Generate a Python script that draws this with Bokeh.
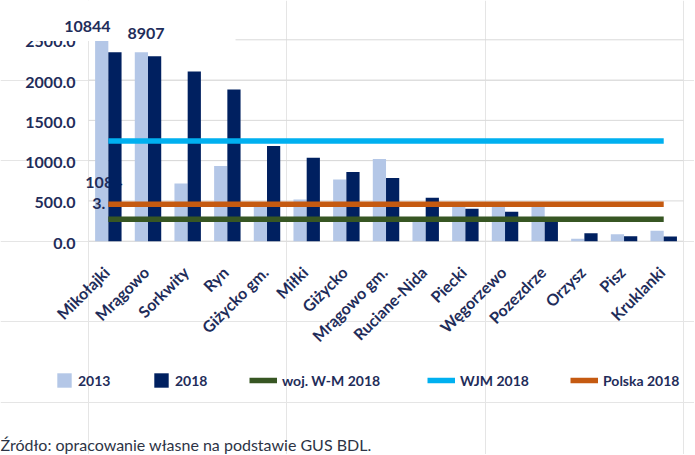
from math import pi
from bokeh.plotting import figure
from bokeh.models import Range1d, Legend, LegendItem, Label, ColumnDataSource, BoxAnnotation
from bokeh.core.properties import value
from bokeh.embed import file_html
from bokeh.resources import INLINE

# ---------------- data ----------------
categories = ["Mikołajki", "Mrągowo", "Sorkwity", "Ryn", "Giżycko gm.", "Miłki",
              "Giżycko", "Mrągowo gm.", "Ruciane-Nida", "Piecki", "Węgorzewo",
              "Pozezdrze", "Orzysz", "Pisz", "Kruklanki"]
values_2013 = [10844, 2345, 716, 935, 440, 517, 765, 1020, 270, 430, 425, 425, 30, 87, 129]
values_2018 = [2345, 2295, 2105, 1882, 1183, 1035, 860, 783, 538, 402, 365, 270, 100, 62, 58]
woj_wm_2018 = 273
wjm_2018 = 1245
polska_2018 = 460
y_ticks = [0, 500, 1000, 1500, 2000, 2500]
y_tick_labels = [f"{t:.1f}" for t in y_ticks]
axis_max = 2500
top_labels = ["10844", "8907"]
top_label_values = [2665, 2584]
partial_labels = ["1084", "3."]
partial_label_values = [729, 468]
series_names = ["2013", "2018", "woj. W-M 2018", "WJM 2018", "Polska 2018"]
source_note = "Źródło: opracowanie własne na podstawie GUS BDL."

# ---------------- layout / styles ----------------
W, H = 694, 454
PLOT_LEFT = 88.0          # px where the category area starts
PX_PER_CAT = 39.67        # px per category
ZERO_Y = 240.7            # px (from top) of value 0
PX_PER_UNIT = 201.4 / 2500

C_LIGHT = "#B4C7E7"
C_DARK = "#002060"
C_GREEN = "#375623"
C_CYAN = "#00B0F0"
C_ORANGE = "#C55A11"
C_GRID = "#D9D9D9"
C_TEXT = "#1F2D5A"
FONT = "Lato"

n = len(categories)
centers = [i + 0.5 for i in range(n)]
shown_2013 = [min(v, axis_max) for v in values_2013]
shown_2018 = [min(v, axis_max) for v in values_2018]
src = ColumnDataSource(dict(
    x13=[c - 1/6 for c in centers], x18=[c + 1/6 for c in centers],
    v13=shown_2013, v18=shown_2018))

x_range = Range1d(-PLOT_LEFT / PX_PER_CAT, (W - PLOT_LEFT) / PX_PER_CAT)
y_range = Range1d(-(H - ZERO_Y) / PX_PER_UNIT, ZERO_Y / PX_PER_UNIT)

p = figure(width=W, height=H, x_range=x_range, y_range=y_range,
           output_backend="svg", toolbar_location=None,
           x_axis_location=None, y_axis_location=None, min_border=0)
p.outline_line_color = None
p.background_fill_color = "white"
p.border_fill_color = "white"

# gridlines across the category area
p.segment(x0=[0] * len(y_ticks), x1=[n] * len(y_ticks), y0=y_ticks, y1=y_ticks,
          line_color=C_GRID, line_width=1)

# y tick labels
p.text(x=[0] * len(y_ticks), y=y_ticks, text=y_tick_labels, x_offset=-13, y_offset=2,
       text_align="right", text_baseline="middle", text_font=value(FONT),
       text_font_style="bold", text_font_size="16px", text_color=C_TEXT)

# category labels (rotated)
p.text(x=centers, y=[0] * n, text=categories, angle=pi / 4, x_offset=-2, y_offset=28,
       text_align="right", text_baseline="middle", text_font=value(FONT),
       text_font_style="bold", text_font_size="16px", text_color=C_TEXT)

r13 = p.vbar(x="x13", top="v13", width=1/3, source=src, fill_color=C_LIGHT, line_color=None)
for txt, yv, off in zip(partial_labels, partial_label_values, [-23, -16]):
    p.text(x=[centers[0]], y=[yv], text=[txt], x_offset=off, text_align="left",
           text_baseline="middle", text_font=value(FONT), text_font_style="bold",
           text_font_size="16px", text_color=C_TEXT)
r18 = p.vbar(x="x18", top="v18", width=1/3, source=src, fill_color=C_DARK, line_color=None)

rg = p.line(x=centers, y=[woj_wm_2018] * n, line_width=5.5, line_color=C_GREEN)
rc = p.line(x=centers, y=[wjm_2018] * n, line_width=5.5, line_color=C_CYAN)
ro = p.line(x=centers, y=[polska_2018] * n, line_width=5.5, line_color=C_ORANGE)

# white label box of the original chart, hiding the top strip
p.add_layout(BoxAnnotation(left=(20 - PLOT_LEFT) / PX_PER_CAT,
                           right=(235 - PLOT_LEFT) / PX_PER_CAT,
                           bottom=(ZERO_Y - 40.5) / PX_PER_UNIT,
                           fill_color="white", fill_alpha=1, line_color=None))

for txt, yv, idx, off in zip(top_labels, top_label_values, [0, 1], [-21, -2]):
    p.add_layout(Label(x=centers[idx], y=yv, x_offset=off, text=txt, text_align="center",
                       text_baseline="middle", text_font=FONT, text_font_style="bold",
                       text_font_size="16px", text_color=C_TEXT))

legend_specs = [(r13, series_names[0], 55, 18), (r18, series_names[1], 152, 18),
                (rg, series_names[2], 249, 28), (rc, series_names[3], 427, 28),
                (ro, series_names[4], 570, 28)]
for rend, lab, vx, gw in legend_specs:
    lg = Legend(items=[LegendItem(label=lab, renderers=[rend])], location=(vx, H - 389),
                orientation="horizontal", glyph_width=gw, glyph_height=18, label_height=18,
                label_standoff=5, padding=0, margin=0, border_line_color=None,
                background_fill_alpha=0, label_text_font=FONT, label_text_font_style="bold",
                label_text_font_size="14px", label_text_color=C_TEXT)
    p.add_layout(lg)

p.add_layout(Label(x=0, y=H - 444, x_units="screen", y_units="screen", text=source_note,
                   text_align="left", text_baseline="alphabetic", text_font=FONT,
                   text_font_size="16px", text_color="#2D3446"))

open("out.html", "w").write(file_html(p, INLINE))
